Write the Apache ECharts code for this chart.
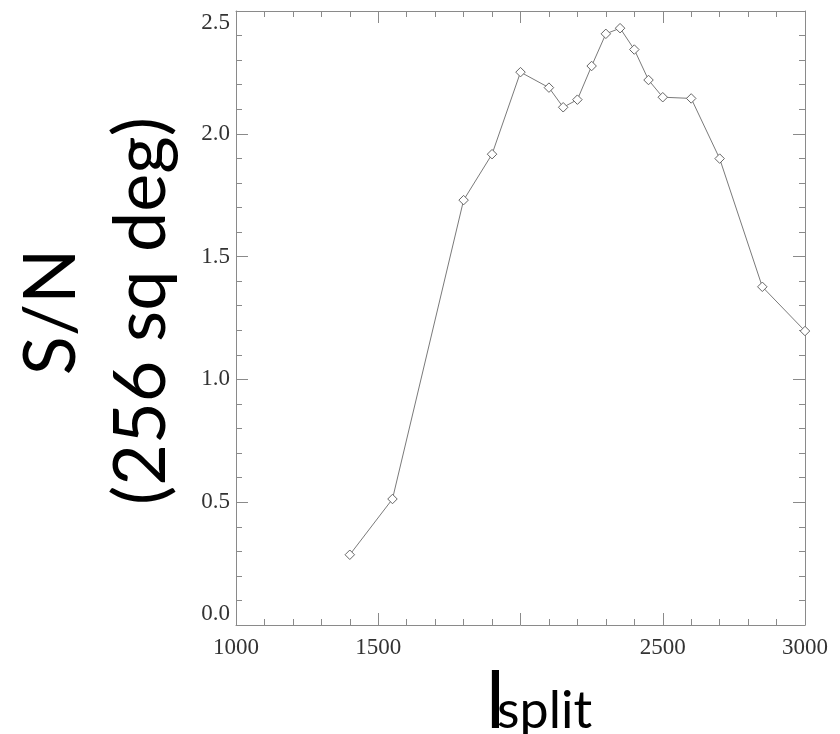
<!DOCTYPE html>
<html>
<head>
<meta charset="utf-8">
<script src="https://cdn.jsdelivr.net/npm/echarts@6/dist/echarts.min.js"></script>
<style>
html,body{margin:0;padding:0;background:#fff;}
#chart{width:840px;height:734px;}
</style>
</head>
<body>
<div id="chart"></div>
<script>
const lSplit = [1400, 1550, 1800, 1900, 2000, 2100, 2150, 2200, 2250, 2300, 2350, 2400, 2450, 2500, 2600, 2700, 2850, 3000];
const snValues = [0.286, 0.513, 1.730, 1.917, 2.251, 2.188, 2.108, 2.139, 2.276, 2.407, 2.430, 2.343, 2.219, 2.149, 2.144, 1.899, 1.377, 1.197];
const xTickValues = [1000, 1500, 2000, 2500, 3000];
const xTickLabels = ['1000', '1500', '', '2500', '3000'];
const yTickValues = [0, 0.5, 1.0, 1.5, 2.0, 2.5];
const yTickLabels = ['0.0', '0.5', '1.0', '1.5', '2.0', '2.5'];

const axisGray = '#8a8a8a';
const labelFont = 'Liberation Serif';
const titleFont = 'Lato';

function xFmt(v) {
  const i = xTickValues.indexOf(v);
  return i >= 0 ? xTickLabels[i] : '';
}
function yFmt(v) {
  const i = yTickValues.findIndex(t => Math.abs(t - v) < 1e-9);
  return i >= 0 ? yTickLabels[i] : '';
}

const baseX = {
  type: 'value', min: 1000, max: 3000, interval: 500,
  axisLine: {show: true, onZero: false, lineStyle: {color: axisGray, width: 1}},
  axisTick: {show: true, inside: true, length: 12, lineStyle: {color: axisGray}},
  minorTick: {show: true, splitNumber: 5, length: 6, lineStyle: {color: axisGray}},
  splitLine: {show: false}, minorSplitLine: {show: false}
};
const baseY = {
  type: 'value', min: 0, max: 2.5, interval: 0.5,
  axisLine: {show: true, onZero: false, lineStyle: {color: axisGray, width: 1}},
  axisTick: {show: true, inside: true, length: 12, lineStyle: {color: axisGray}},
  minorTick: {show: true, splitNumber: 5, length: 6, lineStyle: {color: axisGray}},
  splitLine: {show: false}, minorSplitLine: {show: false}
};

const chart = echarts.init(document.getElementById('chart'), null, {renderer: 'canvas'});
chart.setOption({
  animation: false,
  backgroundColor: '#ffffff',
  grid: {left: 236, right: 35, top: 11, bottom: 109, containLabel: false, outerBoundsMode: 'none'},
  xAxis: [
    Object.assign({}, baseX, {
      position: 'bottom',
      axisLabel: {show: true, formatter: xFmt, margin: 11, color: '#333', fontFamily: labelFont, fontSize: 23}
    }),
    Object.assign({}, baseX, {position: 'top', axisLabel: {show: false}})
  ],
  yAxis: [
    Object.assign({}, baseY, {
      position: 'left',
      axisLabel: {show: true, formatter: yFmt, margin: 6, color: '#333', fontFamily: labelFont, fontSize: 23,
        verticalAlignMinLabel: 'bottom', verticalAlignMaxLabel: 'top'}
    }),
    Object.assign({}, baseY, {position: 'right', axisLabel: {show: false}})
  ],
  series: [{
    type: 'line',
    xAxisIndex: 0, yAxisIndex: 0,
    data: lSplit.map((x, i) => [x, snValues[i]]),
    symbol: 'diamond',
    symbolSize: 9.5,
    showAllSymbol: true,
    lineStyle: {color: '#7a7a7a', width: 1},
    itemStyle: {color: '#ffffff', borderColor: '#666', borderWidth: 1},
    clip: true
  }],
  graphic: [
    {type: 'text', x: 51.5, y: 312, rotation: Math.PI / 2,
      style: {text: 'S/N', fontFamily: titleFont, fontSize: 72, fill: '#000', align: 'center', verticalAlign: 'middle'}},
    {type: 'text', x: 142, y: 311, rotation: Math.PI / 2,
      style: {text: '(256 sq deg)', fontFamily: titleFont, fontSize: 72, fill: '#000', align: 'center', verticalAlign: 'middle'}},
    {type: 'text', x: 486, y: 702,
      style: {text: 'l', fontFamily: titleFont, fontSize: 80, fill: '#000', align: 'left', verticalAlign: 'middle'}},
    {type: 'text', x: 497, y: 711,
      style: {text: 'split', fontFamily: titleFont, fontSize: 52, fill: '#000', align: 'left', verticalAlign: 'middle'}}
  ]
});
</script>
</body>
</html>
